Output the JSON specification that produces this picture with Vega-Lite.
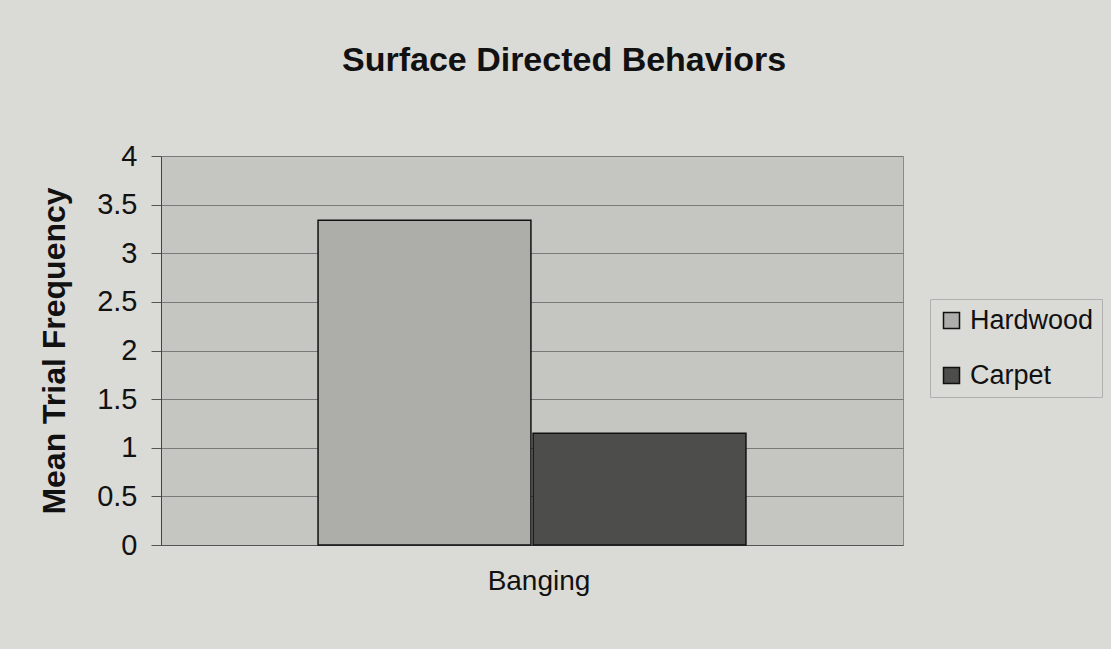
{
  "$schema": "https://vega.github.io/schema/vega-lite/v6.json",
  "autosize": {"type": "none"},
  "padding": {"left": 161, "top": 156, "right": 208, "bottom": 104},
  "width": 742,
  "height": 389,
  "background": "#dadad6",
  "config": {
    "font": "Liberation Sans",
    "view": {"fill": "#c5c5c1", "stroke": "#8a8a88", "strokeWidth": 1}
  },
  "title": {
    "text": "Surface Directed Behaviors",
    "fontSize": 34,
    "fontWeight": "bold",
    "color": "#111111",
    "anchor": "middle",
    "frame": "group",
    "dx": 32,
    "offset": 64
  },
  "data": {
    "values": [
      {"behavior": "Banging", "surface": "Hardwood", "value": 3.34},
      {"behavior": "Banging", "surface": "Carpet", "value": 1.15}
    ]
  },
  "mark": {"type": "bar", "stroke": "#111111", "strokeWidth": 1.5},
  "encoding": {
    "x": {
      "field": "behavior",
      "type": "nominal",
      "scale": {"paddingInner": 0, "paddingOuter": 0.367},
      "axis": {
        "title": null,
        "labelAngle": 0,
        "labelFontSize": 28,
        "labelColor": "#111111",
        "labelPadding": 22,
        "labelOffset": 7,
        "ticks": false,
        "domainColor": "#555555"
      }
    },
    "xOffset": {"field": "surface", "type": "nominal", "sort": ["Hardwood", "Carpet"], "scale": {"paddingInner": 0.01}},
    "y": {
      "field": "value",
      "type": "quantitative",
      "scale": {"domain": [0, 4]},
      "axis": {
        "title": "Mean Trial Frequency",
        "titleFontSize": 32,
        "titleFontWeight": "bold",
        "titleColor": "#111111",
        "titlePadding": 25,
        "values": [0, 0.5, 1, 1.5, 2, 2.5, 3, 3.5, 4],
        "labelExpr": "'' + datum.value",
        "labelFontSize": 29,
        "labelColor": "#111111",
        "labelPadding": 14,
        "tickSize": 10,
        "tickColor": "#555555",
        "domainColor": "#444444",
        "gridColor": "#7a7a78",
        "gridWidth": 1
      }
    },
    "color": {
      "field": "surface",
      "type": "nominal",
      "sort": ["Hardwood", "Carpet"],
      "scale": {"domain": ["Hardwood", "Carpet"], "range": ["#adadaa", "#4d4d4b"]},
      "legend": {
        "title": null,
        "orient": "none",
        "legendX": 769,
        "legendY": 143,
        "symbolType": "square",
        "symbolSize": 256,
        "symbolStrokeColor": "#111111",
        "symbolStrokeWidth": 1.5,
        "labelFontSize": 27,
        "labelColor": "#111111",
        "labelOffset": 5,
        "rowPadding": 27,
        "padding": 8,
        "strokeColor": "#b0b0ae",
        "fillColor": "#dadad6"
      }
    }
  }
}
